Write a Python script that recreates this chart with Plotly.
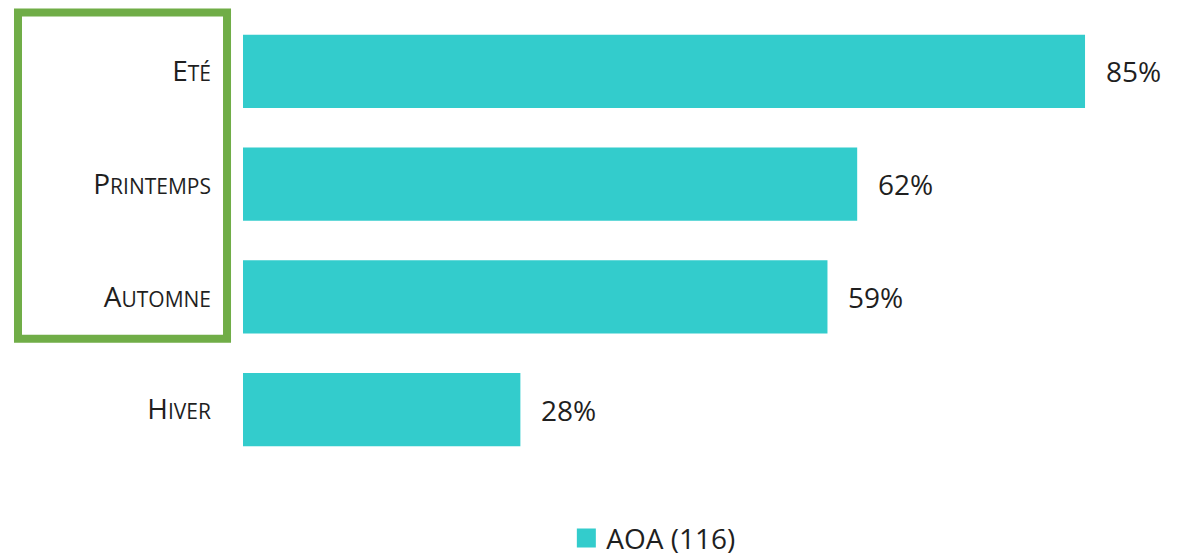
import plotly.graph_objects as go

categories = ["Eté", "Printemps", "Automne", "Hiver"]
# small-caps rendering: first letter, rest in reduced size
first_letters = ["E", "P", "A", "H"]
rest_letters = ["TÉ", "RINTEMPS", "UTOMNE", "IVER"]
values = [85, 62, 59, 28]
series_name = "AOA (116)"

bar_color = "#33CCCC"
font_family = "'Open Sans', Lato, sans-serif"
text_color = "#1f1f1f"

tick_labels = [f"{f}<span style='font-size:21px'>{r}</span>" for f, r in zip(first_letters, rest_letters)]

fig = go.Figure()
fig.add_trace(go.Bar(
    y=categories,
    x=values,
    orientation="h",
    marker=dict(color=bar_color, line=dict(width=0)),
    name=series_name,
    showlegend=False,
))
# legend proxy with a larger square swatch
fig.add_trace(go.Scatter(
    x=[None], y=[None], mode="markers",
    marker=dict(symbol="square", size=20, color=bar_color, line=dict(width=3, color=bar_color)),
    name=series_name, showlegend=True,
))

for c, v in zip(categories, values):
    fig.add_annotation(
        x=v, y=c, xref="x", yref="y",
        text=f"{v}%", showarrow=False,
        xanchor="left", xshift=19,
        font=dict(family=font_family, size=28, color=text_color),
    )

# green highlight box around the first three labels
fig.add_shape(
    type="rect", xref="paper", yref="paper",
    x0=-0.2366, x1=-0.0168, y0=0.2821, y1=1.0055,
    line=dict(color="#70AD47", width=8),
    fillcolor="rgba(0,0,0,0)",
)

# page body has an 8px margin, so the figure is shifted by 8px right/down
fig.update_layout(
    width=1195, height=548,
    margin=dict(l=235, r=9, t=6.5, b=89.5, autoexpand=False),
    paper_bgcolor="white", plot_bgcolor="white",
    bargap=0.35,
    font=dict(family=font_family, size=28, color=text_color),
    xaxis=dict(range=[0, 96], visible=False, showgrid=False, zeroline=False),
    yaxis=dict(
        categoryorder="array", categoryarray=categories[::-1],
        tickvals=categories, ticktext=tick_labels,
        showgrid=False, zeroline=False, showline=False, ticks="",
        ticklabelstandoff=31,
        tickfont=dict(family=font_family, size=28, color=text_color),
    ),
    legend=dict(
        orientation="h", x=0.34, xanchor="left", y=-0.105, yanchor="top",
        font=dict(family=font_family, size=28, color=text_color),
    ),
)

fig.write_html("out.html")
